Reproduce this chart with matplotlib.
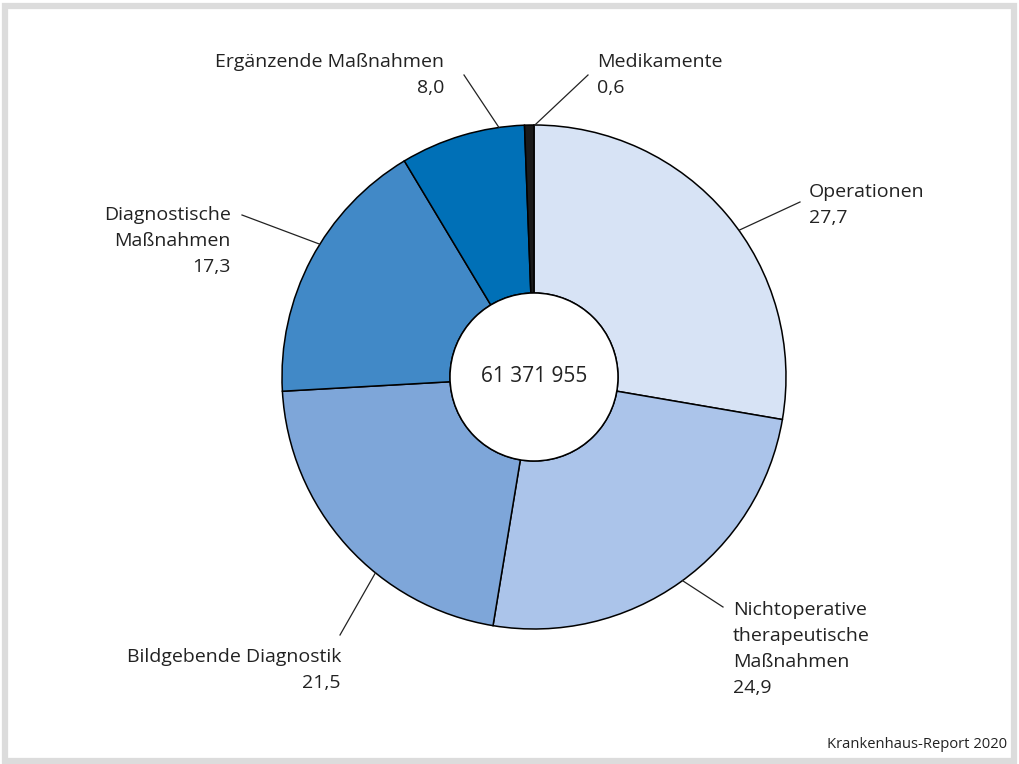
import numpy as np
import matplotlib
matplotlib.use("Agg")
import matplotlib.pyplot as plt
from matplotlib.patches import Circle, Rectangle

# Anteile in Prozent (im Uhrzeigersinn ab 12 Uhr)
kategorien = ["Operationen", "Nichtoperative\ntherapeutische\nMaßnahmen", "Bildgebende Diagnostik",
              "Diagnostische\nMaßnahmen", "Ergänzende Maßnahmen", "Medikamente"]
werte = [27.7, 24.9, 21.5, 17.3, 8.0, 0.6]
farben = ["#d7e3f5", "#abc4ea", "#7ea6d9", "#4189c7", "#0070b7", "#1a1a1a"]
gesamt = "61 371 955"
quelle = "Krankenhaus-Report 2020"

W, H = 1020, 764
plt.rcParams['font.family'] = ['Open Sans', 'DejaVu Sans']

fig = plt.figure(figsize=(W / 100, H / 100), dpi=100)
ax = fig.add_axes([0, 0, 1, 1])
ax.set_xlim(0, W)
ax.set_ylim(0, H)
ax.set_aspect('equal')
ax.axis("off")

# grauer Rahmen
fig.patches.append(Rectangle((5.5 / W, 3.5 / H), (W - 11) / W, (H - 9) / H, transform=fig.transFigure,
                             fill=False, edgecolor="#dcdcdc", linewidth=4.5))

cx, cy = 534, H - 377
R, r_in = 252, 84

ax.pie(werte, colors=farben, startangle=90, counterclock=False, radius=R, center=(cx, cy),
       wedgeprops=dict(width=R - r_in, edgecolor="black", linewidth=1.1))
ax.add_patch(Circle((cx, cy), r_in, facecolor="white", edgecolor="black", linewidth=1.1, zorder=5))
ax.set_xlim(0, W)
ax.set_ylim(0, H)

ax.text(cx, cy, gesamt, ha="center", va="center", fontsize=15, color="#222222", zorder=6)

# Beschriftungen: (Winkel am Rand, Linienende, Textposition, Ausrichtung)
beschr = [
    (35.6, (800, 202), (809, 190), "left"),
    (-53.9, (723, 607), (733, 608), "left"),
    (-129.0, (340, 635), (341, 655), "right"),
    (148.2, (242, 215), (231, 213), "right"),
    (98.0, (464, 75), (444, 60), "right"),
    (89.8, (588, 75), (597, 60), "left"),
]

for name, wert, (ang, ende, tpos, ha) in zip(kategorien, werte, beschr):
    a = np.deg2rad(ang)
    start = (cx + R * np.cos(a), cy + R * np.sin(a))
    ax.plot([start[0], ende[0]], [start[1], H - ende[1]], color="#222222", linewidth=0.9, zorder=4)
    text = name + "\n" + f"{wert:.1f}".replace(".", ",")
    ax.text(tpos[0], H - tpos[1] + 7, text, ha=ha, va="top", fontsize=14,
            color="#222222", linespacing=1.57, multialignment=ha)

ax.text(1007, H - 745, quelle, ha="right", va="center", fontsize=10.6, color="#222222")

fig.savefig("out.png", dpi=100)
